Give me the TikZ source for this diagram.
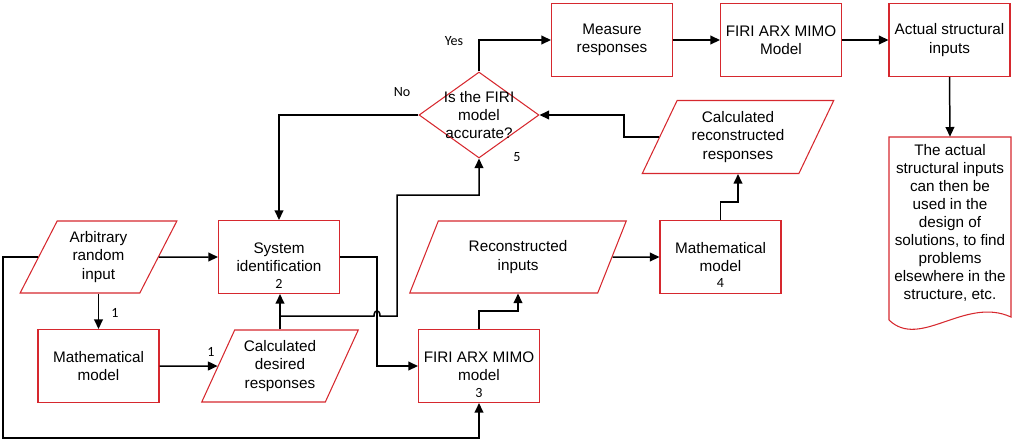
\documentclass[tikz,border=0pt]{standalone}
\usepackage{fontspec}
\setmainfont{Liberation Sans}
\newfontfamily\notefont{Carlito}
\usetikzlibrary{shapes.geometric,arrows.meta}
\definecolor{boxred}{RGB}{214,40,46}

\begin{document}
\begin{tikzpicture}[x=0.02cm, y=-0.02cm,
  every node/.style={font=\fontsize{8.7}{10.3}\selectfont, align=center},
  block/.style={draw=boxred, line width=0.6pt, minimum width=2.42cm, minimum height=1.46cm, inner sep=1pt},
  iobox/.style={draw=boxred, line width=0.6pt, trapezium, trapezium left angle=63, trapezium right angle=117,
    trapezium stretches=true, minimum height=1.44cm, inner sep=1pt},
  check/.style={draw=boxred, line width=0.6pt, diamond, minimum width=2.4cm, minimum height=1.72cm, inner sep=0pt},
  note/.style={font=\notefont\fontsize{8}{9}\selectfont, inner sep=1pt},
  flow/.style={line width=0.85pt, -{Triangle[length=5.5pt,width=5pt]}},
  wire/.style={line width=0.85pt}]
  \useasboundingbox (0,0) rectangle (1024,441);

  % identification
  \node[iobox, minimum width=3.14cm] (arb) at (98.5,257) {Arbitrary\\random\\input};
  \node[block] (mm1) at (98.5,366) {Mathematical\\model};
  \node[iobox, minimum width=3.14cm] (cdr) at (280,366) {Calculated\\desired\\responses};
  \node[block] (sys) at (279,257) {System\\identification};
  \node[block] (fir3) at (479,366) {FIRI ARX MIMO\\model};

  % reconstruction
  \node[iobox, minimum width=4.36cm] (reci) at (518,257) {Reconstructed\\inputs};
  \node[block] (mm4) at (720.5,257) {Mathematical\\model};
  \node[iobox, minimum width=3.84cm, minimum height=1.46cm] (crr) at (738,137) {Calculated\\reconstructed\\responses};
  \node[check, label={center:{Is the FIRI\\model\\accurate?}}] (acc) at (479,115) {};

  % top row
  \node[block] (meas) at (612,40) {Measure\\responses};
  \node[block] (firm) at (781,40) {FIRI ARX MIMO\\Model};
  \node[block] (act) at (949.5,40) {Actual structural\\inputs};
  \node[inner sep=1pt, minimum width=2.44cm, minimum height=3.44cm] (doc) at (950,223)
    {The actual\\structural inputs\\can then be\\used in the\\design of\\solutions, to find\\problems\\elsewhere in the\\structure, etc.};
  \draw[draw=boxred, line width=0.6pt] (889,320) -- (889,137) -- (1011,137) -- (1011,317)
    .. controls (965,296) and (920,350) .. (889,320);

  % step numbers and answers
  \node[note] (n1a) at (115,313) {1};
  \node[note] (n1b) at (211,352) {1};
  \node[note] (n2) at (279,284) {2};
  \node[note] (n3) at (479,393) {3};
  \node[note] (n4) at (720.5,283) {4};
  \node[note] (n5) at (517,157) {5};
  \node[note] (yes) at (454,41) {Yes};
  \node[note] (no) at (402,92) {No};

  % connectors
  \draw[flow] (arb.east) -- (sys.west);
  \draw[flow] (arb.center |- arb.south) -- (mm1.north);
  \draw[flow] (mm1.east) -- (cdr.west);
  \draw[flow] (cdr.center |- cdr.north) -- (cdr.center |- sys.south);
  \coordinate (split) at (280,316);
  \draw[flow] (split) -- (374,316) .. controls (374,309) and (380,309) .. (380,316) -| (397,195) -| (acc.south);
  \draw[flow] (sys.east) -- ++(37,0) |- (fir3.west);
  \draw[flow] (fir3.north) -- ++(0,-18) -| (reci.center |- reci.south);
  \draw[flow] (reci.east) -- (mm4.west);
  \draw[flow] (mm4.north) -- ++(0,-18) -| (crr.center |- crr.south);
  \draw[flow] (crr.west) -- ++(-35,0) |- (acc.east);
  \draw[flow] (acc.west) -| (sys.north);
  \draw[flow] (acc.north) |- (meas.west);
  \draw[flow] (meas.east) -- (firm.west);
  \draw[flow] (firm.east) -- (act.west);
  \draw[flow] (act.south) -- (doc.north);

  % feedback of the random input
  \draw[flow] (arb.west) -| (3,438) -| (fir3.south);
\end{tikzpicture}
\end{document}
